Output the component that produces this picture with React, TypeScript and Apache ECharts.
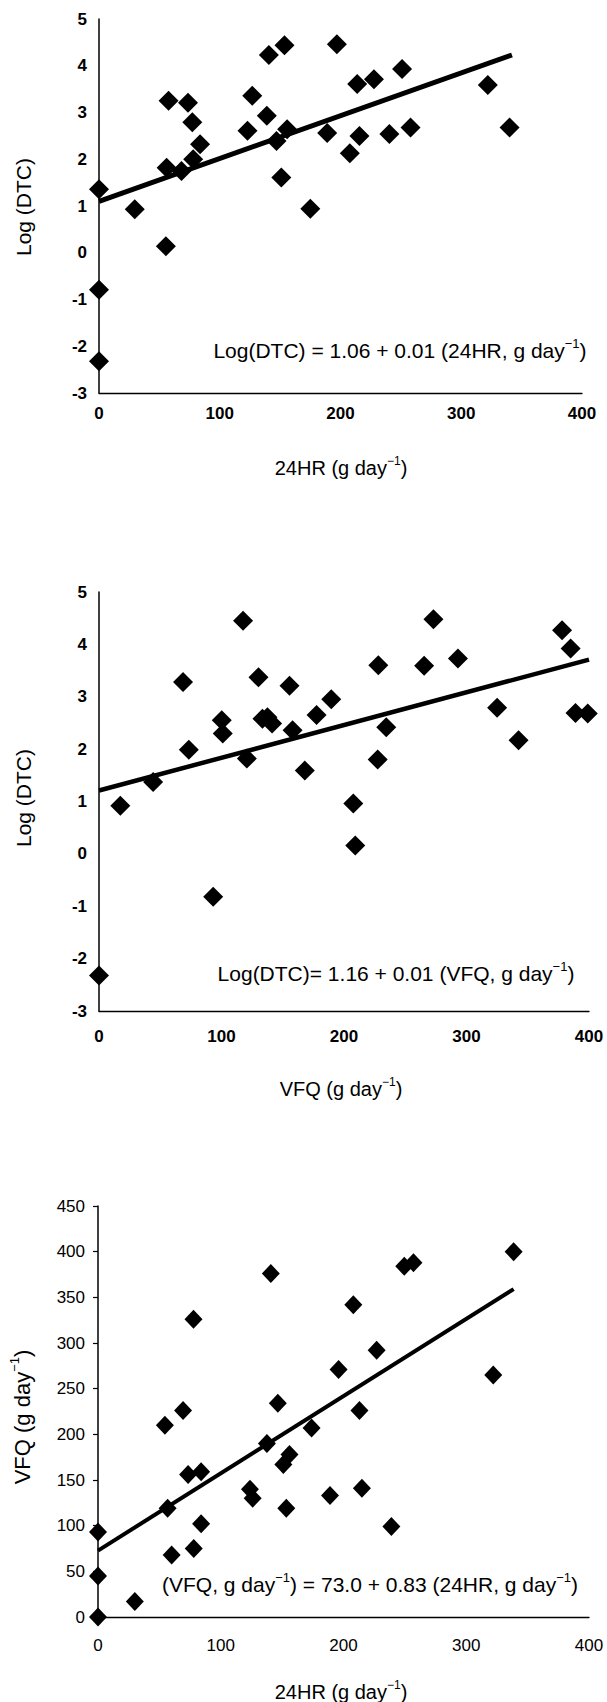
import React, { useEffect, useRef } from 'react';
import * as echarts from 'echarts';

// ---------- Data ----------
// Panel 1: 24HR (g/day) vs Log(DTC)
const p1X = [0, 0, 0, 29.6, 55.4, 56, 57.6, 68.3, 73.7, 77.3, 78, 83.7, 123, 126.9, 139, 140.7, 147, 151, 153.6, 155.8, 175, 189, 197, 207.7, 213.8, 215.7, 227.7, 240.5, 251, 258, 322, 340];
const p1Y = [1.36, -0.79, -2.32, 0.93, 0.14, 1.82, 3.25, 1.75, 3.21, 2.79, 2.0, 2.32, 2.61, 3.36, 2.93, 4.23, 2.39, 1.61, 4.44, 2.64, 0.94, 2.56, 4.46, 2.13, 3.61, 2.5, 3.71, 2.54, 3.93, 2.68, 3.59, 2.68];
const p1LineX = [0, 342];
const p1LineY = [1.1, 4.23];

// Panel 2: VFQ (g/day) vs Log(DTC)
const p2X = [0, 17.4, 44.2, 68.6, 73.3, 93.2, 100.2, 101, 117.6, 120.7, 130.2, 133.4, 137.5, 141.3, 155.5, 158, 168, 177.6, 189.6, 207.6, 209.2, 227.5, 228, 234.5, 265.4, 273, 293, 325, 342.5, 378, 385, 389, 399];
const p2Y = [-2.32, 0.92, 1.37, 3.28, 1.99, -0.82, 2.55, 2.3, 4.45, 1.82, 3.37, 2.58, 2.61, 2.49, 3.21, 2.36, 1.59, 2.65, 2.95, 0.96, 0.16, 1.8, 3.6, 2.42, 3.59, 4.48, 3.73, 2.79, 2.17, 4.27, 3.92, 2.69, 2.68];
const p2LineX = [0, 400];
const p2LineY = [1.21, 3.71];

// Panel 3: 24HR (g/day) vs VFQ (g/day)
const p3X = [0, 0, 0, 30, 54.5, 56.7, 60, 69.3, 73.4, 77.8, 78, 84, 84, 123.8, 126, 137.6, 140.8, 146.5, 151, 153.4, 156, 174, 189, 196, 208, 213, 215, 227, 239, 249.5, 257, 322, 338.6];
const p3Y = [93, 45, 0, 17, 210, 119, 68, 226, 156, 326, 75, 159, 102, 140, 130, 190, 376, 234, 167, 119, 178, 207, 133, 271, 342, 226, 141, 292, 99, 384, 388, 265, 400];
const p3LineX = [0, 338.6];
const p3LineY = [72.7, 359];

const xAxisRange = [0, 400, 100];
const logAxisRange = [-3, 5, 1];
const vfqAxisRange = [0, 450, 50];

const titles1 = { x: '24HR (g day{sup|−1})', y: 'Log (DTC)', eq: 'Log(DTC) = 1.06 + 0.01 (24HR, g day{sup|−1})' };
const titles2 = { x: 'VFQ (g day{sup|−1})', y: 'Log (DTC)', eq: 'Log(DTC)= 1.16 + 0.01 (VFQ, g day{sup|−1})' };
const titles3 = { x: '24HR (g day{sup|−1})', y: 'VFQ (g day{sup|−1})', eq: '(VFQ, g day{sup|−1}) = 73.0 + 0.83 (24HR, g day{sup|−1})' };

const FONT = "'Liberation Sans', Arial, Helvetica, sans-serif";

const zip = (a: number[], b: number[]) => a.map((v, i) => [v, b[i]]);

function textEl(x: number, y: number, text: string, fontSize: number, rotation = 0) {
  const supSize = Math.round(fontSize * 0.6);
  return {
    type: 'text',
    x,
    y,
    rotation,
    silent: true,
    style: {
      text,
      fill: '#000',
      fontSize,
      fontFamily: FONT,
      align: 'center',
      verticalAlign: 'middle',
      textAlign: 'center',
      textVerticalAlign: 'middle',
      lineHeight: Math.round(fontSize * 1.3),
      rich: {
        sup: {
          fontSize: supSize,
          fontFamily: FONT,
          fill: '#000',
          lineHeight: supSize,
          verticalAlign: 'top',
        },
      },
    },
  };
}

function xAxisCfg(gridIndex: number, bold: boolean, margin: number) {
  return {
    gridIndex,
    type: 'value',
    min: xAxisRange[0],
    max: xAxisRange[1],
    interval: xAxisRange[2],
    axisLine: { show: true, onZero: false, lineStyle: { color: '#000', width: 1.3 } },
    axisTick: { show: false },
    splitLine: { show: false },
    axisLabel: {
      color: '#000',
      fontSize: 17,
      fontWeight: bold ? 'bold' : 'normal',
      fontFamily: FONT,
      margin,
      showMinLabel: true,
      showMaxLabel: true,
    },
  };
}

function yAxisCfg(gridIndex: number, range: number[], bold: boolean, ticks: boolean, margin: number) {
  return {
    gridIndex,
    type: 'value',
    min: range[0],
    max: range[1],
    interval: range[2],
    axisLine: { show: true, onZero: false, lineStyle: { color: '#000', width: 1.5 } },
    axisTick: { show: ticks, length: 5, inside: false, lineStyle: { color: '#000', width: 1.2 } },
    splitLine: { show: false },
    axisLabel: {
      color: '#000',
      fontSize: 17,
      fontWeight: bold ? 'bold' : 'normal',
      fontFamily: FONT,
      margin,
      showMinLabel: true,
      showMaxLabel: true,
    },
  };
}

function scatter(idx: number, xs: number[], ys: number[], size: number[]) {
  return {
    type: 'scatter',
    xAxisIndex: idx,
    yAxisIndex: idx,
    data: zip(xs, ys),
    symbol: 'diamond',
    symbolSize: size,
    itemStyle: { color: '#000', opacity: 1 },
    clip: false,
    z: 3,
  };
}

function fitLine(idx: number, xs: number[], ys: number[], width: number) {
  return {
    type: 'line',
    xAxisIndex: idx,
    yAxisIndex: idx,
    data: zip(xs, ys),
    symbol: 'none',
    lineStyle: { color: '#000', width },
    clip: false,
    z: 2,
  };
}

export default function App() {
  const ref = useRef<HTMLDivElement>(null);

  useEffect(() => {
    document.body.style.margin = '0';
    const chart = echarts.init(ref.current as HTMLDivElement, null, { renderer: 'svg' });
    const option = {
      animation: false,
      backgroundColor: '#fff',
      grid: [
        { left: 99, top: 19, width: 483, height: 374 },
        { left: 99, top: 592, width: 490, height: 419 },
        { left: 98, top: 1206, width: 491, height: 411 },
      ],
      xAxis: [xAxisCfg(0, true, 12), xAxisCfg(1, true, 17), xAxisCfg(2, false, 20)],
      yAxis: [
        yAxisCfg(0, logAxisRange, true, false, 12),
        yAxisCfg(1, logAxisRange, true, false, 12),
        yAxisCfg(2, vfqAxisRange, false, true, 13),
      ],
      series: [
        fitLine(0, p1LineX, p1LineY, 5),
        scatter(0, p1X, p1Y, [20, 20]),
        fitLine(1, p2LineX, p2LineY, 4.5),
        scatter(1, p2X, p2Y, [20, 20]),
        fitLine(2, p3LineX, p3LineY, 4),
        scatter(2, p3X, p3Y, [18, 19]),
      ],
      graphic: [
        textEl(341, 468, titles1.x, 20),
        textEl(23, 207, titles1.y, 21, Math.PI / 2),
        textEl(400, 350, titles1.eq, 21),
        textEl(341, 1089, titles2.x, 20),
        textEl(23, 798, titles2.y, 21, Math.PI / 2),
        textEl(396, 973, titles2.eq, 21),
        textEl(341, 1692, titles3.x, 20),
        textEl(22, 1417, titles3.y, 22, Math.PI / 2),
        textEl(370, 1584, titles3.eq, 21),
      ],
    };
    chart.setOption(option as any);
    return () => chart.dispose();
  }, []);

  return <div ref={ref} style={{ width: 607, height: 1702 }} />;
}
